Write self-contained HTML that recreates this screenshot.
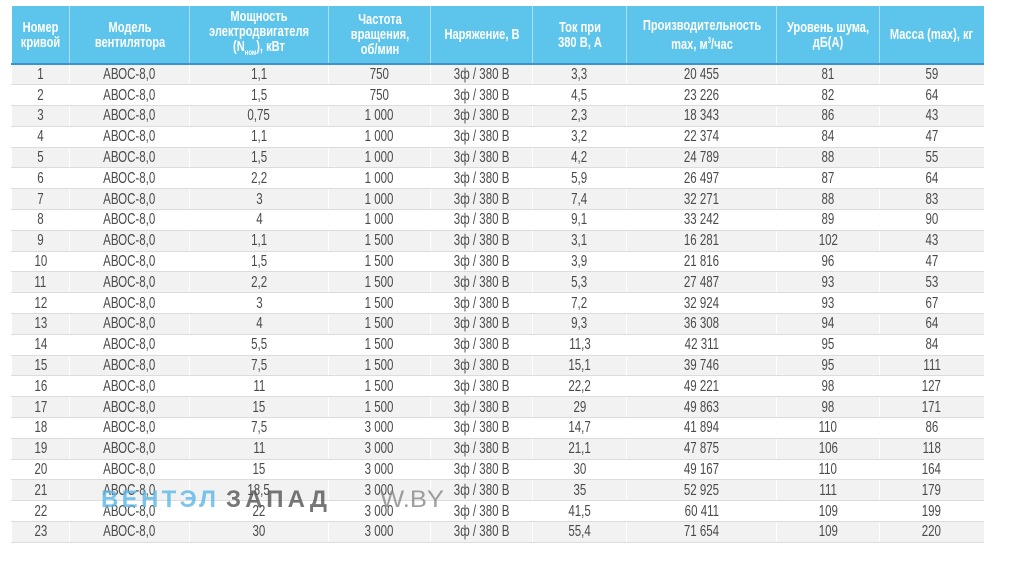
<!DOCTYPE html>
<html><head><meta charset="utf-8">
<style>
html,body{margin:0;padding:0;background:#fff;width:1011px;height:577px;overflow:hidden}
#wrap{position:absolute;left:11px;top:6px;width:972px}
table{border-collapse:collapse;table-layout:fixed;width:972px;font-family:"Liberation Sans","DejaVu Sans",sans-serif}
th{background:#5dc5ec;color:#fff;font-weight:bold;font-size:15px;line-height:15px;height:57px;padding:0;border-left:1px solid #a9e0f5;border-bottom:2px solid #3b93cf;text-align:center;vertical-align:middle;white-space:nowrap;overflow:hidden}
th:first-child{border-left:none}
td{height:20.8px;padding:0;font-size:16px;color:#4a4a4a;text-align:center;border-left:1px solid #fff;border-bottom:1px solid #dcdcdc;line-height:19px;box-sizing:border-box;white-space:nowrap}
.s{display:inline-block;transform:scaleX(0.72);transform-origin:center}
th .s{display:block;width:200%;margin-left:-50%;transform:scaleX(0.74)}
tr.g td{background:#f2f2f2}
#wm{position:absolute;left:0;top:0}
</style></head><body>
<div id="wrap">
<table id="t">
<colgroup><col style="width:58px"><col style="width:120px"><col style="width:139px"><col style="width:102px"><col style="width:102px"><col style="width:94px"><col style="width:150px"><col style="width:103px"><col style="width:104px"></colgroup>
<thead><tr>
<th><span class="s">Номер<br>кривой</span></th>
<th><span class="s">Модель<br>вентилятора</span></th>
<th><span class="s">Мощность<br>электродвигателя<br>(N<sub style="font-size:8px">ном</sub>), кВт</span></th>
<th><span class="s">Частота<br>вращения,<br>об/мин</span></th>
<th><span class="s">Наряжение, В</span></th>
<th><span class="s">Ток при<br>380 В, А</span></th>
<th><span class="s">Производительность<br>max, м<sup style="font-size:8px">3</sup>/час</span></th>
<th><span class="s">Уровень шума,<br>дБ(А)</span></th>
<th><span class="s">Масса (max), кг</span></th>
</tr></thead>
<tbody id="tb"></tbody>
</table>
</div>
<svg id="wm" width="1011" height="577" style="opacity:.8">
<text x="101" y="507" textLength="115" lengthAdjust="spacing" font-family="Liberation Sans, sans-serif" font-weight="bold" font-size="24" fill="#5bb8e8">ВЕНТЭЛ</text>
<text x="226" y="507" textLength="101" lengthAdjust="spacing" font-family="Liberation Sans, sans-serif" font-weight="bold" font-size="24" fill="#555">ЗАПАД</text>
<text x="380" y="507" textLength="64" lengthAdjust="spacingAndGlyphs" font-family="Liberation Sans, sans-serif" font-size="24" fill="#888">W.BY</text>
</svg>
<script>
const power=["1,1","1,5","0,75","1,1","1,5","2,2","3","4","1,1","1,5","2,2","3","4","5,5","7,5","11","15","7,5","11","15","18,5","22","30"];
const rpm=["750","750","1 000","1 000","1 000","1 000","1 000","1 000","1 500","1 500","1 500","1 500","1 500","1 500","1 500","1 500","1 500","3 000","3 000","3 000","3 000","3 000","3 000"];
const current=["3,3","4,5","2,3","3,2","4,2","5,9","7,4","9,1","3,1","3,9","5,3","7,2","9,3","11,3","15,1","22,2","29","14,7","21,1","30","35","41,5","55,4"];
const capacity=["20 455","23 226","18 343","22 374","24 789","26 497","32 271","33 242","16 281","21 816","27 487","32 924","36 308","42 311","39 746","49 221","49 863","41 894","47 875","49 167","52 925","60 411","71 654"];
const noise=["81","82","86","84","88","87","88","89","102","96","93","93","94","95","95","98","98","110","106","110","111","109","109"];
const mass=["59","64","43","47","55","64","83","90","43","47","53","67","64","84","111","127","171","86","118","164","179","199","220"];
const cols=["curve-number","model","power","rpm","voltage","current","capacity","noise","mass"];
const tb=document.getElementById('tb');
for(let i=0;i<power.length;i++){
  const tr=document.createElement('tr');
  
  
  if(i%2===0)tr.className='g';
  const vals=[String(i+1),"АВОС-8,0",power[i],rpm[i],"3ф / 380 В",current[i],capacity[i],noise[i],mass[i]];
  vals.forEach((v,j)=>{
    const td=document.createElement('td');
    
    
    const sp=document.createElement('span');
    sp.className='s';
    sp.textContent=v;
    td.appendChild(sp);
    tr.appendChild(td);
  });
  tb.appendChild(tr);
}
</script>
</body></html>
